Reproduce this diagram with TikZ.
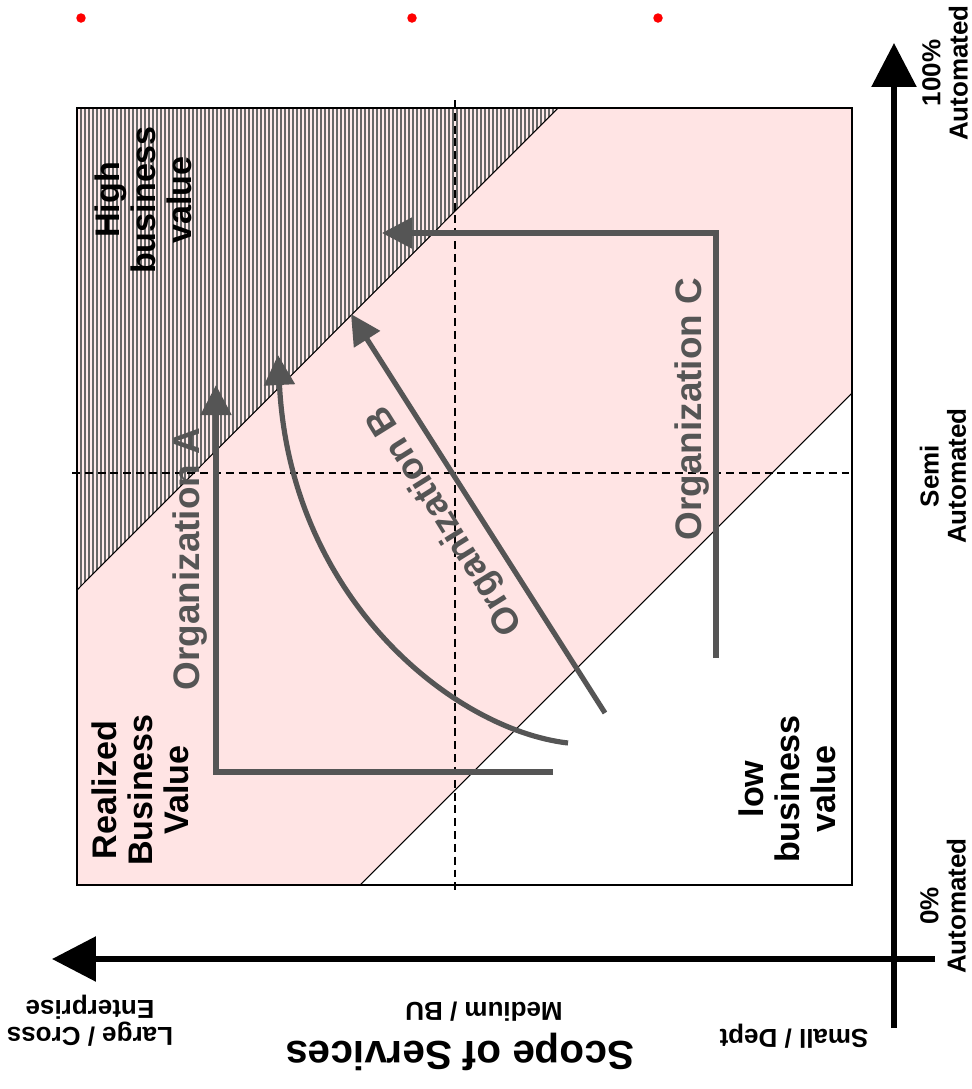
\documentclass[tikz,border=0pt]{standalone}
\usepackage{fontspec}
\setmainfont{Liberation Sans}
\usetikzlibrary{arrows.meta}
\definecolor{pinkbg}{RGB}{255,228,228}
\definecolor{hatchgray}{RGB}{104,104,104}
\definecolor{stripe}{RGB}{255,236,236}
\definecolor{orggray}{RGB}{85,85,85}
\begin{document}
\begin{tikzpicture}[x=0.02cm,y=-0.02cm,
  axislbl/.style={font=\bfseries\fontsize{14.8pt}{15.5pt}\selectfont, align=center, inner sep=0pt},
  titlelbl/.style={font=\bfseries\fontsize{23pt}{25pt}\selectfont, align=center, inner sep=0pt},
  zonelbl/.style={font=\bfseries\fontsize{19.4pt}{20.5pt}\selectfont, align=center, inner sep=0pt},
  orglbl/.style={font=\bfseries\fontsize{21pt}{23pt}\selectfont, text=orggray, inner sep=0pt},
  orgarrow/.style={draw=orggray, line width=2.95pt, -{Triangle[length=0.6cm,width=0.6cm]}},
  axisarrow/.style={draw=black, line width=3.3pt, -{Triangle[length=0.88cm,width=0.88cm]}},
  dashline/.style={draw=black, line width=0.75pt, dash pattern=on 4.5pt off 2.8pt},
  thinline/.style={draw=black, line width=0.6pt}]
\useasboundingbox (0,0) rectangle (972,1089);

% red dots
\fill[red] (81,18) circle[radius=0.095cm];
\fill[red] (412,18) circle[radius=0.095cm];
\fill[red] (658,18) circle[radius=0.095cm];

% pink band
\fill[pinkbg] (77,590) -- (558,108) -- (852,108) -- (852,393) -- (360,885) -- (77,885) -- cycle;
% hatched high-value region
\fill[hatchgray] (77,108) -- (558,108) -- (77,590) -- cycle;
\begin{scope}
  \clip (77,108) -- (558,108) -- (77,590) -- cycle;
  \foreach \x in {79,83,...,559} \draw[stripe, line width=0.6pt] (\x,100) -- (\x,600);
\end{scope}

% dashed guides
\draw[dashline] (455,100) -- (455,890);
\draw[dashline] (72,473) -- (852,473);

% diagonals and frame
\draw[thinline] (558,108) -- (77,590);
\draw[thinline] (852,393) -- (360,885);
\draw[draw=black, line width=1.2pt] (77,108) rectangle (852,885);

% axes
\coordinate (vaxS) at (894,1028);
\coordinate (vaxE) at (894,43);
\coordinate (haxS) at (935,959);
\coordinate (haxE) at (52,959);
\draw[axisarrow] (vaxS) -- (vaxE);
\draw[axisarrow] (haxS) -- (haxE);

% organization arrows
\coordinate (aS) at (553,772);
\coordinate (aC) at (216,772);
\coordinate (aE) at (216,385);
\draw[orgarrow] (aS) -- (aC) -- (aE);

\coordinate (bS) at (568,743);
\coordinate (bc1) at (455,730);
\coordinate (bc2) at (290,600);
\coordinate (bE) at (278,355);
\draw[orgarrow] (bS) .. controls (bc1) and (bc2) .. (bE);

\coordinate (b2S) at (605,713);
\coordinate (b2E) at (351,314);
\draw[orgarrow] (b2S) -- (b2E);

\coordinate (cS) at (716,658);
\coordinate (cC) at (716,233);
\coordinate (cE) at (382,233);
\draw[orgarrow] (cS) -- (cC) -- (cE);

% zone labels
\node[zonelbl, rotate=90] (high) at (143,200) {High\\business\\value};
\node[zonelbl, rotate=90] (real) at (140,790) {Realized\\Business\\Value};
\node[zonelbl, rotate=90] (low) at (787,789) {low\\business\\value};

% organization labels
\node[orglbl, rotate=90] (orgA) at (190,559) {Organization A};
\node[orglbl, rotate=122] (orgB) at (446,520) {Organization B};
\node[orglbl, rotate=90] (orgC) at (692,409) {Organization C};

% axis labels
\node[axislbl, rotate=90] (full) at (945,73) {100\%\\Automated};
\node[axislbl, rotate=90] (semi) at (943,476) {Semi\\Automated};
\node[axislbl, rotate=90] (zero) at (943,906) {0\%\\Automated};
\node[axislbl, rotate=180] (small) at (794,1036) {Small / Dept};
\node[axislbl, rotate=180] (medium) at (484,1012) {Medium / BU};
\node[axislbl, rotate=180] (large) at (90,1021) {Large / Cross\\Enterprise};
\node[titlelbl, rotate=180] (scope) at (460,1052) {Scope of Services};
\end{tikzpicture}
\end{document}
